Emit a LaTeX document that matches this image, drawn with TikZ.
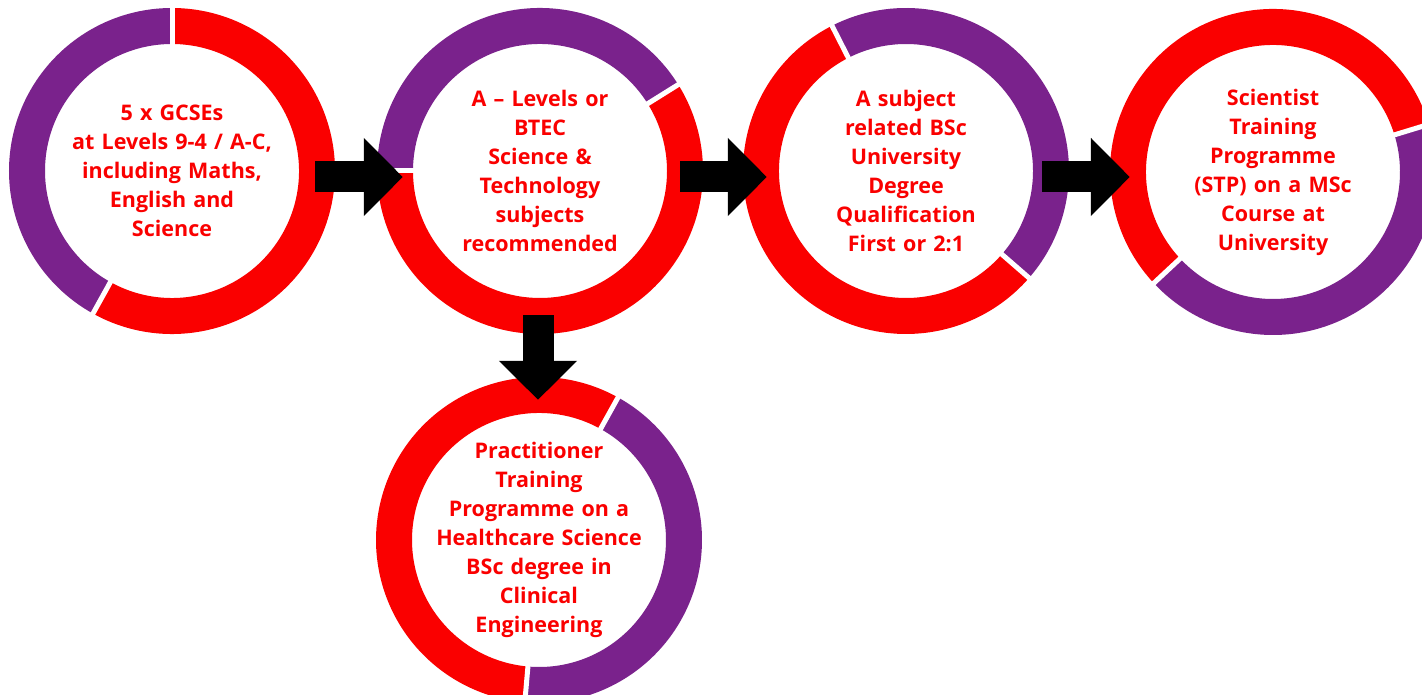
\documentclass[tikz,border=0pt]{standalone}
\usepackage{fontspec}
\setmainfont{Open Sans}
\usetikzlibrary{arrows.meta}
\definecolor{ringred}{RGB}{250,0,0}
\definecolor{ringpurple}{RGB}{122,34,140}
\newcommand{\ringseg}[4]{\draw[#2, line width=36pt] ([shift={(#3:145)}]#1.center) arc[start angle=#3, end angle=#4, radius=145];}
\newcommand{\ringgap}[2]{\draw[white, line width=5pt] ([shift={(#2:124)}]#1.center) -- ([shift={(#2:167)}]#1.center);}
\begin{document}
\begin{tikzpicture}[x=1pt,y=1pt,
  stage/.style={circle, minimum size=326pt, inner sep=0pt, text width=230pt, align=center, text=ringred, font=\bfseries\fontsize{21.5}{29}\selectfont},
  flow/.style={line width=31pt, draw=black, -{Triangle[length=39pt,width=76pt]}}]
\clip (0,0) rectangle (1422,695);
\fill[white] (0,0) rectangle (1422,695);
\node[stage] (c1) at (172,524) {5 x GCSEs\\at Levels 9-4 / A-C,\\including Maths,\\English and\\Science};
\node[stage] (c2) at (540,524) {A -- Levels or\\BTEC\\Science \&\\Technology\\subjects\\recommended};
\node[stage] (c3) at (906,524) {A subject\\related BSc\\University\\Degree\\Qualification\\First or 2:1};
\node[stage] (c4) at (1273,523) {Scientist\\Training\\Programme\\(STP) on a MSc\\Course at\\University};
\node[stage] (c5) at (539,155) {Practitioner\\Training\\Programme on a\\Healthcare Science\\BSc degree in\\Clinical\\Engineering};
% rings
\ringseg{c1}{ringpurple}{90}{241}
\ringseg{c1}{ringred}{241}{450}
\ringgap{c1}{90}\ringgap{c1}{241}
\ringseg{c2}{ringpurple}{32}{180}
\ringseg{c2}{ringred}{180}{392}
\ringgap{c2}{32}\ringgap{c2}{180}
\ringseg{c3}{ringpurple}{-41}{117}
\ringseg{c3}{ringred}{117}{319}
\ringgap{c3}{-41}\ringgap{c3}{117}
\ringseg{c4}{ringred}{17}{223}
\ringseg{c4}{ringpurple}{223}{377}
\ringgap{c4}{17}\ringgap{c4}{223}
\ringseg{c5}{ringred}{61}{265}
\ringseg{c5}{ringpurple}{265}{421}
\ringgap{c5}{61}\ringgap{c5}{265}
% arrows
\draw[flow] ([shift={(-20,-6)}]c1.east) -- ([shift={(26,-6)}]c2.west);
\draw[flow] ([shift={(-23,-6)}]c2.east) -- ([shift={(24,-6)}]c3.west);
\draw[flow] ([shift={(-27,-6)}]c3.east) -- ([shift={(20,-5)}]c4.west);
\draw[flow] ([shift={(-2,19)}]c2.south) -- ([shift={(-1,-23)}]c5.north);
\end{tikzpicture}
\end{document}
